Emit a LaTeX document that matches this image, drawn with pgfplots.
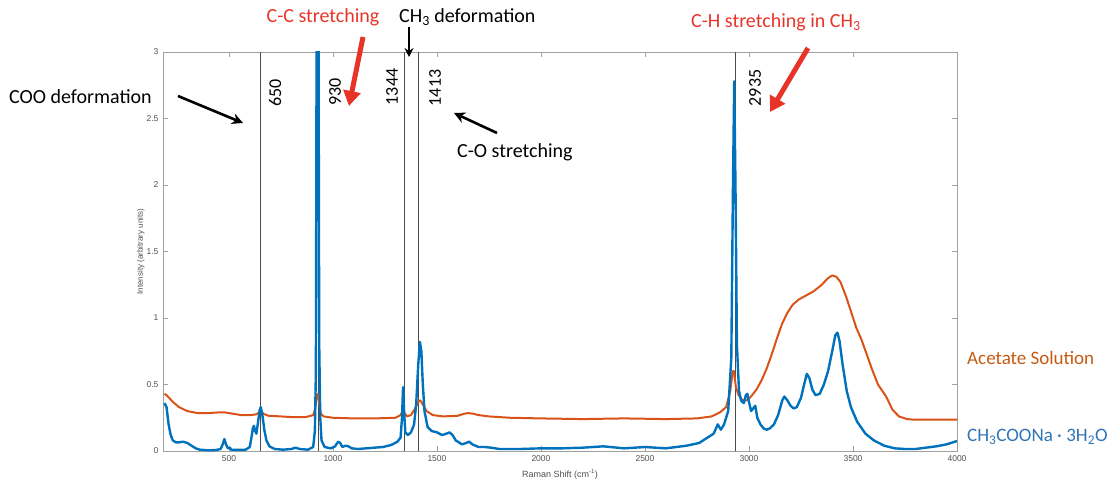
\documentclass[border=0pt]{standalone}
\usepackage{pgfplots}
\pgfplotsset{compat=1.18}
\usepackage{fontspec}
\setmainfont{Carlito}
\newfontfamily\axfont{Liberation Sans}
\usetikzlibrary{arrows.meta}

\definecolor{lineblue}{RGB}{0,114,189}
\definecolor{lineorange}{RGB}{217,83,25}
\definecolor{txtblue}{RGB}{46,117,182}
\definecolor{txtorange}{RGB}{197,90,17}
\definecolor{annred}{RGB}{232,52,40}
\definecolor{axgray}{RGB}{160,160,160}
\definecolor{ticktxt}{RGB}{80,80,80}

\begin{document}
\begin{tikzpicture}[x=1pt,y=1pt]
\useasboundingbox (0pt,0pt) rectangle (1110pt,482pt);

\begin{axis}[
  at={(163pt,31pt)}, anchor=south west,
  scale only axis, width=794pt, height=399pt,
  xmin=183, xmax=4000, ymin=0, ymax=3,
  xtick={500,1000,...,4000},
  ytick={0,0.5,...,3},
  yticklabels={0,0.5,1,1.5,2,2.5,3},
  /pgf/number format/assume math mode=true,
  /pgf/number format/set thousands separator={},
  tick label style={font=\axfont\fontsize{8.5}{10}\selectfont, text=ticktxt},
  axis line style={axgray, line width=0.8pt},
  major tick style={axgray, line width=0.8pt},
  major tick length=5pt,
  tick align=inside,
  xticklabel style={yshift=-1pt},
  yticklabel style={xshift=-1pt},
  xlabel={Raman Shift (cm\textsuperscript{-1})},
  ylabel={Intensity (arbitrary units)},
  xlabel style={font=\axfont\fontsize{9}{10}\selectfont, text=ticktxt,
    at={(axis description cs:0.5,-0.058)}, anchor=center},
  ylabel style={font=\axfont\fontsize{8}{10}\selectfont, text=ticktxt,
    at={(axis description cs:-0.028,0.5)}, anchor=center, rotate=0},
  clip=true,
]
% band positions
\addplot[black!70, line width=0.9pt] coordinates {(650,0) (650,3)};
\addplot[black!70, line width=0.9pt] coordinates {(930,0) (930,3)};
\addplot[black!70, line width=0.9pt] coordinates {(1344,0) (1344,3)};
\addplot[black!70, line width=0.9pt] coordinates {(1413,0) (1413,3)};
\addplot[black!70, line width=0.9pt] coordinates {(2935,0) (2935,3)};

% acetate solution
\addplot[lineorange, line width=2pt, line join=round] coordinates {
(190,0.43)(200,0.42)(230,0.37)(260,0.33)(300,0.30)(350,0.285)(400,0.285)(450,0.29)
(480,0.29)(520,0.28)(560,0.27)(600,0.27)(630,0.275)(645,0.29)(655,0.30)(665,0.28)
(690,0.265)(750,0.26)(800,0.255)(870,0.255)(905,0.27)(915,0.32)(922,0.42)(928,0.43)
(934,0.35)(942,0.28)(955,0.26)(1000,0.25)(1100,0.245)(1200,0.245)(1300,0.25)
(1325,0.27)(1335,0.30)(1342,0.29)(1355,0.26)(1375,0.27)(1395,0.32)(1410,0.37)
(1420,0.38)(1432,0.35)(1450,0.30)(1480,0.27)(1530,0.26)(1600,0.265)(1630,0.28)
(1650,0.285)(1675,0.28)(1700,0.27)(1750,0.26)(1850,0.25)(2000,0.245)(2200,0.24)
(2400,0.245)(2600,0.24)(2750,0.245)(2820,0.26)(2860,0.29)(2890,0.33)(2910,0.45)
(2922,0.60)(2928,0.60)(2937,0.48)(2950,0.42)(2970,0.38)(2990,0.38)(3010,0.41)
(3035,0.46)(3060,0.53)(3085,0.62)(3110,0.73)(3135,0.85)(3160,0.96)(3185,1.04)
(3210,1.10)(3240,1.14)(3275,1.17)(3310,1.20)(3350,1.25)(3380,1.30)(3400,1.32)
(3420,1.31)(3440,1.27)(3467,1.16)(3490,1.05)(3515,0.93)(3540,0.84)(3563,0.74)
(3590,0.62)(3620,0.50)(3659,0.41)(3690,0.31)(3721,0.26)(3760,0.24)(3800,0.235)
(3900,0.235)(4000,0.235)};

% sodium acetate trihydrate
\addplot[lineblue, line width=2.4pt, line join=round] coordinates {
(190,0.36)(200,0.33)(210,0.20)(220,0.12)(230,0.08)(245,0.065)(260,0.065)(280,0.07)
(300,0.06)(320,0.04)(340,0.02)(360,0.01)(400,0.005)(440,0.008)(460,0.015)(470,0.05)
(478,0.09)(486,0.05)(495,0.02)(505,0.025)(510,0.01)(540,0.008)(580,0.01)(600,0.03)
(608,0.10)(615,0.17)(620,0.19)(626,0.15)(632,0.13)(640,0.22)(648,0.31)(653,0.33)
(660,0.28)(670,0.16)(680,0.08)(695,0.035)(720,0.015)(760,0.01)(800,0.015)(820,0.025)
(840,0.015)(880,0.01)(905,0.03)(913,0.15)(918,0.60)(922,3.6)(930,3.6)(934,0.8)
(939,0.25)(945,0.08)(960,0.03)(990,0.02)(1010,0.035)(1025,0.07)(1035,0.06)(1045,0.03)
(1060,0.04)(1075,0.035)(1090,0.02)(1120,0.015)(1160,0.02)(1200,0.025)(1240,0.03)
(1280,0.045)(1310,0.07)(1325,0.10)(1332,0.25)(1337,0.48)(1342,0.30)(1348,0.14)
(1360,0.12)(1375,0.14)(1390,0.20)(1400,0.35)(1410,0.65)(1418,0.82)(1425,0.75)
(1432,0.50)(1440,0.30)(1455,0.18)(1475,0.15)(1500,0.14)(1525,0.12)(1545,0.13)
(1560,0.14)(1575,0.12)(1590,0.08)(1620,0.05)(1640,0.06)(1655,0.07)(1670,0.05)
(1700,0.03)(1730,0.03)(1760,0.025)(1800,0.015)(1900,0.015)(2000,0.02)(2100,0.02)
(2200,0.025)(2300,0.035)(2400,0.02)(2500,0.03)(2600,0.02)(2700,0.04)(2760,0.06)
(2800,0.10)(2830,0.13)(2850,0.20)(2865,0.16)(2880,0.20)(2900,0.30)(2915,0.70)
(2923,2.0)(2929,2.78)(2935,2.0)(2942,0.80)(2952,0.45)(2962,0.38)(2975,0.36)
(2985,0.42)(2992,0.43)(3000,0.37)(3010,0.30)(3020,0.32)(3030,0.34)(3040,0.25)
(3055,0.20)(3070,0.17)(3085,0.16)(3100,0.17)(3120,0.20)(3140,0.27)(3160,0.38)
(3170,0.41)(3185,0.38)(3200,0.34)(3215,0.32)(3230,0.33)(3250,0.40)(3265,0.50)
(3278,0.58)(3290,0.55)(3305,0.46)(3320,0.42)(3340,0.43)(3360,0.50)(3380,0.60)
(3400,0.75)(3415,0.87)(3425,0.89)(3435,0.83)(3450,0.65)(3470,0.45)(3490,0.33)
(3520,0.22)(3560,0.13)(3600,0.08)(3650,0.04)(3700,0.02)(3750,0.015)(3800,0.015)
(3850,0.025)(3900,0.035)(3950,0.05)(4000,0.075)};

% exponent of the intensity axis
\node[font=\axfont\fontsize{7}{8}\selectfont, text=ticktxt, anchor=south west, inner sep=0pt]
  at (rel axis cs:0,1) {${}\times$10\textsuperscript{4}};
\end{axis}

% band wavenumbers
\begin{scope}[font=\fontsize{18}{20}\selectfont]
\node[rotate=90] at (275,389) {650};
\node[rotate=90] at (335,390) {930};
\node[rotate=90] at (392,395) {1344};
\node[rotate=90] at (435,394) {1413};
\node[rotate=90] at (755,394) {2935};
\end{scope}

% assignments
\begin{scope}[font=\fontsize{20}{22}\selectfont]
\node[anchor=west, inner sep=0pt] at (9,385) {COO deformation};
\node[anchor=center, text=annred, inner sep=0pt] at (323,465) {C-C stretching};
\node[anchor=west, inner sep=0pt] at (399,465) {CH\textsubscript{3} deformation};
\node[anchor=west, inner sep=0pt] at (457,330) {C-O stretching};
\node[anchor=west, text=annred, inner sep=0pt] at (691,460) {C-H stretching in CH\textsubscript{3}};
\end{scope}

\draw[line width=2.6pt, -{Stealth[length=11pt,width=11pt]}] (178,386) -- (243,359);
\draw[line width=2.2pt, -{Stealth[length=9pt,width=9pt]}] (409,455) -- (409,425);
\draw[line width=2.6pt, -{Stealth[length=11pt,width=11pt]}] (497,349) -- (454,369);
\draw[annred, line width=5pt, -{Triangle[length=15pt,width=17pt]}] (363,445) -- (349,376);
\draw[annred, line width=5pt, -{Triangle[length=15pt,width=17pt]}] (808,434) -- (770,370);

% series names
\begin{scope}[font=\fontsize{19}{21}\selectfont]
\node[anchor=west, text=txtorange, inner sep=0pt] at (967,124) {Acetate Solution};
\node[anchor=west, text=txtblue, inner sep=0pt] at (967,45) {CH\textsubscript{3}COONa · 3H\textsubscript{2}O};
\end{scope}
\end{tikzpicture}
\end{document}
